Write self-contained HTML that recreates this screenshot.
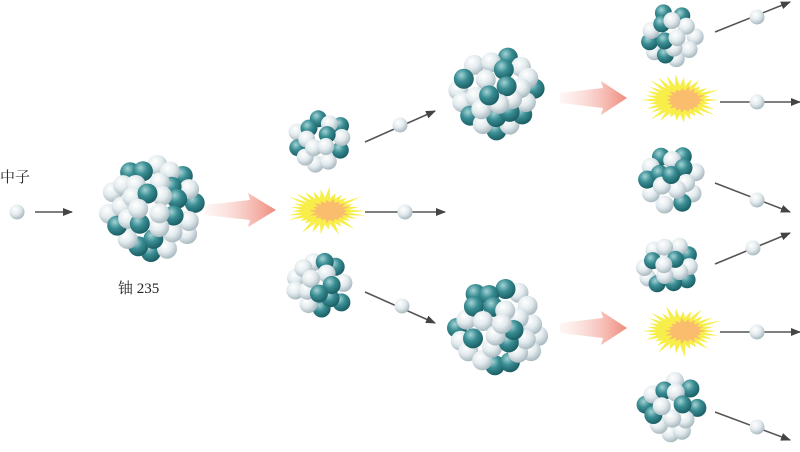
<!DOCTYPE html>
<html><head><meta charset="utf-8">
<style>
html,body{margin:0;padding:0;background:#fff;}
svg{display:block;}
text{font-family:"Liberation Serif","Noto Serif CJK SC",serif;}
</style></head>
<body>
<svg id="s" width="800" height="452" viewBox="0 0 800 452" xmlns="http://www.w3.org/2000/svg">
<defs>
<radialGradient id="gw" cx="0.38" cy="0.32" r="0.72">
<stop offset="0" stop-color="#ffffff"/><stop offset="0.5" stop-color="#e3ebee"/><stop offset="1" stop-color="#a3b4bb"/>
</radialGradient>
<radialGradient id="gt" cx="0.38" cy="0.32" r="0.72">
<stop offset="0" stop-color="#a5d3d5"/><stop offset="0.45" stop-color="#3a8e94"/><stop offset="1" stop-color="#175a60"/>
</radialGradient>
<linearGradient id="gp" x1="0" x2="1" y1="0" y2="0">
<stop offset="0" stop-color="#fbe0dc" stop-opacity="0.3"/><stop offset="1" stop-color="#ef8a7c"/>
</linearGradient>
<marker id="ah" markerWidth="10" markerHeight="8" refX="9" refY="4" orient="auto" markerUnits="userSpaceOnUse">
<path d="M0,0 L10,4 L0,8 z" fill="#444"/>
</marker>
</defs>
<g id="arrows" stroke="#555" stroke-width="1.6" fill="none">
<line x1="35" y1="212" x2="72" y2="212" marker-end="url(#ah)"/>
<line x1="365" y1="212" x2="445" y2="212" marker-end="url(#ah)"/>
<line x1="365" y1="142" x2="435" y2="111" marker-end="url(#ah)"/>
<line x1="365" y1="292" x2="435" y2="323" marker-end="url(#ah)"/>
<line x1="715" y1="32" x2="790" y2="2" marker-end="url(#ah)"/>
<line x1="720" y1="102" x2="800" y2="102" marker-end="url(#ah)"/>
<line x1="715" y1="183" x2="790" y2="212" marker-end="url(#ah)"/>
<line x1="715" y1="264" x2="790" y2="233" marker-end="url(#ah)"/>
<line x1="720" y1="332" x2="800" y2="332" marker-end="url(#ah)"/>
<line x1="715" y1="412" x2="790" y2="440" marker-end="url(#ah)"/>
</g>
<g fill="url(#gp)">
<path d="M205,205 L250,200 L248,193 L276,210 L248,227 L250,220 L205,215 z"/>
<path d="M560,93 L603,88 L601,81 L627,98 L601,115 L603,108 L560,103 z"/>
<path d="M560,323 L603,318 L601,311 L627,328 L601,345 L603,338 L560,333 z"/>
</g>
<g id="dyn"></g>
<text x="0" y="182" font-size="15" fill="#222">中子</text>
<text x="118" y="293" font-size="15" fill="#222">铀 235</text>
</svg>
<script>
(function(){
var NS="http://www.w3.org/2000/svg",g=document.getElementById("dyn");
var seed=29;function rnd(){seed=(seed*16807)%2147483647;return (seed-1)/2147483646;}
function el(n,a){var e=document.createElementNS(NS,n);for(var k in a)e.setAttribute(k,a[k]);g.appendChild(e);return e;}
function flash(cx,cy,rx,ry){
 var pts=[],n=60;
 for(var i=0;i<n;i++){var a=i/n*Math.PI*2,r=(i%2?0.6:0.75+rnd()*0.4);pts.push((cx+Math.cos(a)*rx*r).toFixed(1)+","+(cy+Math.sin(a)*ry*r).toFixed(1));}
 el("polygon",{points:pts.join(" "),fill:"#f8ee4a"});
 pts=[];
 for(var i=0;i<36;i++){var a=i/36*Math.PI*2,r=(i%2?0.7:0.85+rnd()*0.25);pts.push((cx+5+Math.cos(a)*rx*0.5*r).toFixed(1)+","+(cy+Math.sin(a)*ry*0.55*r).toFixed(1));}
 el("polygon",{points:pts.join(" "),fill:"#f9bd6d"});
}
function cluster(cx,cy,R,br){
 var balls=[],lim=R-br,md=br*1.25;
 for(var t=0;t<10000;t++){
  var x=(rnd()*2-1)*lim,y=(rnd()*2-1)*lim;
  if(x*x+y*y>lim*lim)continue;
  var ok=true;for(var j=0;j<balls.length;j++){var dx=balls[j][0]-x,dy=balls[j][1]-y;if(dx*dx+dy*dy<md*md){ok=false;break;}}
  if(ok)balls.push([x,y]);
 }
 balls.sort(function(a,b){return (b[0]*b[0]+b[1]*b[1])-(a[0]*a[0]+a[1]*a[1]);});
 balls.forEach(function(b,i){el("circle",{cx:(cx+b[0]).toFixed(1),cy:(cy+b[1]).toFixed(1),r:br,fill:((i*7)%5<2)?"url(#gt)":"url(#gw)"});});
}
cluster(152,207,55,10);
cluster(320,140,34,8.5);
cluster(320,286,36,9);
cluster(497,96,50,10);
cluster(498,328,51,10);
cluster(672,36,34,8.5);
cluster(670,180,36,9);
cluster(668,265,33,8.5);
cluster(672,407,36,9);
flash(325,211,40,22);
flash(680,100,40,24);
flash(680,331,40,23);
[[17,212],[405,212],[400,125],[402,306],[757,17],[757,102],[757,200],[753,248],[757,332],[757,427]].forEach(function(p){el("circle",{cx:p[0],cy:p[1],r:7.5,fill:"url(#gw)"});});
})();
</script>
</body></html>
